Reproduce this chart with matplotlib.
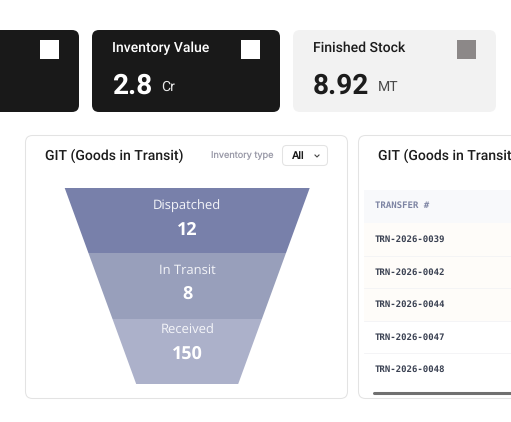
# dashboard crop: kpi cards, GIT funnel and transfer table
import matplotlib
matplotlib.use("Agg")
import matplotlib.pyplot as plt
from matplotlib.patches import FancyBboxPatch, Polygon, Rectangle

stage_names = ["Dispatched", "In Transit", "Received"]
stage_values = [12, 8, 150]
stage_colors = ["#7880aa", "#989fbb", "#acb1ca"]

transfer_ids = ["TRN-2026-0039", "TRN-2026-0042", "TRN-2026-0044", "TRN-2026-0047", "TRN-2026-0048"]
row_tints = ["#fefcf9", "#fefcf9", "#fefcf9", "#ffffff", "#ffffff"]

plt.rcParams["font.family"] = ["Roboto", "DejaVu Sans"]
plt.rcParams["text.hinting"] = "no_hinting"
plt.rcParams["text.hinting_factor"] = 1

fig = plt.figure(figsize=(5.11, 4.22), dpi=100)
ax = fig.add_axes([0, 0, 1, 1])
ax.set_xlim(0, 511)
ax.set_ylim(422, 0)
ax.axis("off")


def card(x0, y0, x1, y1, face, edge="none", r=7, lw=0.75, z=1):
    p = FancyBboxPatch((x0 + r, y0 + r), x1 - x0 - 2 * r, y1 - y0 - 2 * r,
                       boxstyle="round,pad=%d,rounding_size=%d" % (r, r),
                       fc=face, ec=edge, lw=lw, zorder=z)
    ax.add_patch(p)
    return p


# kpi cards
card(-30, 30, 79, 112, "#191919")
card(92, 30, 280, 112, "#191919")
card(293, 30, 496, 112, "#f2f2f2")
ax.add_patch(Rectangle((40, 40), 19, 19, fc="white", ec="none", zorder=2))
ax.add_patch(Rectangle((241, 40), 19, 19, fc="white", ec="none", zorder=2))
ax.add_patch(Rectangle((457, 40), 19, 19, fc="#8c8888", ec="none", zorder=2))

ax.text(112, 48, "Inventory Value", color="white", fontsize=9.85, weight="medium", va="center")
ax.text(112, 86.5, "2.8", color="white", fontsize=20, weight="bold", va="center")
ax.text(161, 87, "Cr", color="#e8e8e8", fontsize=10, va="center")
ax.text(313, 48, "Finished Stock", color="#1c1c1c", fontsize=9.85, weight="medium", va="center")
ax.text(313, 86.5, "8.92", color="#1c1c1c", fontsize=20, weight="bold", va="center")
ax.text(378, 87, "MT", color="#4a4a4a", fontsize=10, va="center")

# funnel panel
card(25.5, 135.5, 347.5, 398.5, "white", "#e3e3e3")
ax.text(45, 156, "GIT (Goods in Transit)", color="#1c1c1c", fontsize=9.85, weight="medium", va="center")
ax.text(211, 156, "Inventory type", color="#9a9aa8", fontsize=6.6, family="Inter", va="center")
card(282.5, 145.5, 327.5, 165.5, "white", "#e3e3e3", r=4)
ax.text(292, 156, "All", color="#1c1c1c", fontsize=7.5, family="Inter", weight="medium", va="center")
ax.plot([315, 317, 319], [155, 157, 155], color="#444444", lw=0.8, zorder=3)

# funnel, edges run straight from top to bottom
top_y, bottom_y = 188, 384
top_half, bottom_half = 122.5, 51
center_x = 187.2
breaks = [188, 253, 319, 384]


def half_width(y):
    return top_half + (bottom_half - top_half) * (y - top_y) / (bottom_y - top_y)


name_y = [206, 270.5, 330]
value_y = [230, 294.5, 354]
for i in range(len(stage_names)):
    y0, y1 = breaks[i], breaks[i + 1]
    w0, w1 = half_width(y0), half_width(y1)
    ax.add_patch(Polygon([(center_x - w0, y0), (center_x + w0, y0), (center_x + w1, y1), (center_x - w1, y1)],
                         fc=stage_colors[i], ec="none", zorder=2))
    ax.text(center_x, name_y[i], stage_names[i], color="#f4f5f9", fontsize=9.5, family="Open Sans", ha="center", va="center", zorder=3)
    ax.text(center_x, value_y[i], str(stage_values[i]), color="white", fontsize=13, family="Open Sans", weight="bold", ha="center", va="center", zorder=3)

# table panel, runs off the right edge
card(358.5, 135.5, 560, 398.5, "white", "#e3e3e3")
ax.text(378, 156, "GIT (Goods in Transit)", color="#1c1c1c", fontsize=9.85, weight="medium", va="center")
ax.add_patch(Rectangle((364, 190), 147, 33, fc="#f8f9fb", ec="none", zorder=2))
ax.text(375, 205.5, "TRANSFER #", color="#7d84a3", fontsize=6.7, weight="bold", family="DejaVu Sans Mono", va="center", zorder=3)

row_h = 32.6
for i in range(len(transfer_ids)):
    y0 = 223 + i * row_h
    ax.add_patch(Rectangle((364, y0), 147, row_h, fc=row_tints[i], ec="none", zorder=2))
    if i < len(transfer_ids) - 1:
        ax.plot([364, 511], [y0 + row_h, y0 + row_h], color="#f3f3f5", lw=0.6, zorder=3)
    ax.text(375, y0 + 16.3, transfer_ids[i], color="#3a4152", fontsize=6.35, weight="bold", family="DejaVu Sans Mono", va="center", zorder=3)

# scrollbar
ax.plot([374, 511], [392.5, 392.5], color="#707070", lw=2.2, solid_capstyle="round", zorder=3)

fig.savefig("out.png", dpi=100)
